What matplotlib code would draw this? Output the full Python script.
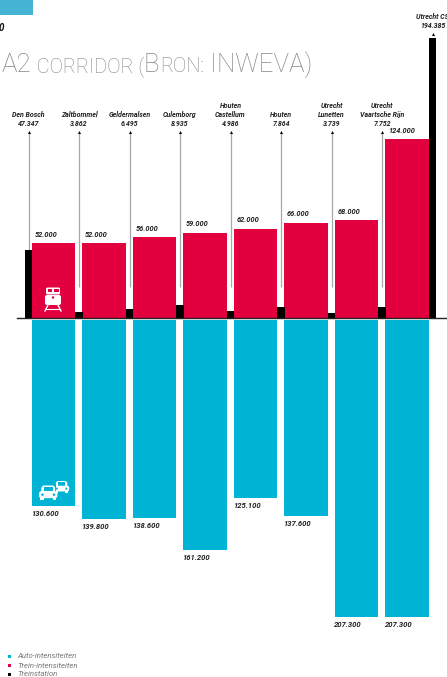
import matplotlib
matplotlib.use('Agg')
import matplotlib.pyplot as plt
from matplotlib.patches import Rectangle, FancyBboxPatch, Circle
from matplotlib.transforms import Affine2D

plt.rcParams['font.family'] = ['Roboto', 'DejaVu Sans']

stations = ['Den Bosch', 'Zaltbommel', 'Geldermalsen', 'Culemborg', 'Houten\nCastellum',
            'Houten', 'Utrecht\nLunetten', 'Utrecht\nVaartsche Rijn', 'Utrecht CS']
station_labels = ['47.347', '3.862', '6.495', '8.935', '4.986', '7.864', '3.739', '7.752', '194.385']
station_vals = [47347, 3862, 6495, 8935, 4986, 7864, 3739, 7752, 194385]

train_vals = [52000, 52000, 56000, 59000, 62000, 66000, 68000, 124000]
train_labels = ['52.000', '52.000', '56.000', '59.000', '62.000', '66.000', '68.000', '124.000']
car_vals = [130600, 139800, 138600, 161200, 125100, 137600, 207300, 207300]
car_labels = ['130.600', '139.800', '138.600', '161.200', '125.100', '137.600', '207.300', '207.300']

legend_names = ['Auto-intensiteiten', 'Trein-intensiteiten', 'Treinstation']

RED = '#e2003f'
CYAN = '#00b4d6'
BLACK = '#000000'
GREY = '#a8a8a8'
TXT = '#222222'

W, H = 447, 677
fig = plt.figure(figsize=(W / 100, H / 100), dpi=100)

# data axes, one bar slot per step on x and traffic counts on y
ax = fig.add_axes([0, 0, 1, 1])
ax.set_xlim(-53.5 / 50.5, (W - 53.5) / 50.5)
ax.set_ylim(-(H - 318) / 1.44 * 1000, 318 / 1.44 * 1000)
ax.axis('off')

# pixel overlay for the header, legend and icons
px = fig.add_axes([0, 0, 1, 1], zorder=5)
px.set_xlim(0, W)
px.set_ylim(H, 0)
px.axis('off')
px.patch.set_alpha(0)

bar_w = 0.86
st_w = 0.145
gap = 1500

for i in range(len(train_vals)):
    ax.bar(i, train_vals[i], width=bar_w, color=RED, linewidth=0, zorder=2)
    # blue bars start just under the axis line but still end at their value
    ax.bar(i, -(car_vals[i] - gap), bottom=-gap, width=bar_w, color=CYAN, linewidth=0, zorder=2)
    left = i - bar_w / 2
    ax.annotate(train_labels[i], (left, train_vals[i]), xytext=(2, 4), textcoords='offset points',
                fontsize=5.3, style='italic', weight='bold', color=TXT, ha='left', va='bottom')
    ax.annotate(car_labels[i], (left, -car_vals[i]), xytext=(-0.5, -3), textcoords='offset points',
                fontsize=5.5, style='italic', weight='bold', color=TXT, ha='left', va='top')

# stations sit in the gaps between the bars
for i in range(len(station_vals)):
    x = i - 0.495
    val = station_vals[i]
    ax.bar(x, val, width=st_w, color=BLACK, linewidth=0, zorder=3)
    if i < len(station_vals) - 1:
        bottom = val if i == 0 else 21500
        ax.plot([x, x], [bottom, 128500], color=GREY, lw=0.9, zorder=1, solid_capstyle='butt')
        top = 129500
    else:
        top = val + 2800
    ax.plot(x, top, marker='^', ms=2.2, color=BLACK, mew=0, zorder=4)
    ax.annotate(stations[i] + '\n' + station_labels[i], (x, top), xytext=(0, 3.5),
                textcoords='offset points', fontsize=5.0, style='italic', weight='bold',
                color=TXT, ha='center', va='bottom', linespacing=1.3)

ax.plot([-36.5 / 50.5, (W - 53.5) / 50.5], [0, 0], color='#222222', lw=1.0, zorder=4)

# header block and title in small caps
px.add_patch(Rectangle((0, 0), 33, 15, color='#45b3d3', lw=0))
px.text(-1, 28, '0', fontsize=7, style='italic', weight='bold', color='#111111', va='center', ha='left')

title_parts = [('A2', 18.6), (' CORRIDOR (', 14.4), ('B', 18.6), ('RON:', 14.4), (' INWEVA)', 18.6)]
renderer = fig.canvas.get_renderer()
cx = 2.0
for part, size in title_parts:
    px.text(cx, 72, part, fontsize=size, color='#858585', weight='light', ha='left', va='baseline')
    # leading spaces are dropped from the extent, so measure with a stand-in
    probe = px.text(0, 0, part.replace(' ', '\u00a0'), fontsize=size, weight='light')
    cx += probe.get_window_extent(renderer).width
    probe.remove()

# legend
for y, col, name in zip([656.5, 665.5, 674.5], [CYAN, RED, BLACK], legend_names):
    px.add_patch(Rectangle((8, y - 1.5), 3.2, 3.2, color=col, lw=0))
    px.text(17, y, name, fontsize=5.6, style='italic', color='#777777', va='center', ha='left')

# train icon
WH = 'white'
px.add_patch(FancyBboxPatch((46, 287.5), 14, 7, boxstyle='round,pad=0,rounding_size=1.5', fc=WH, ec='none'))
px.add_patch(Rectangle((47.5, 289.2), 4.5, 3, fc=RED, lw=0))
px.add_patch(Rectangle((54, 289.2), 4.5, 3, fc=RED, lw=0))
px.add_patch(FancyBboxPatch((45, 295), 16, 10, boxstyle='round,pad=0,rounding_size=2', fc=WH, ec='none'))
px.add_patch(Circle((53, 297.5), 1.2, fc=RED, lw=0))
px.plot([48, 45], [305, 311], color=WH, lw=1.0)
px.plot([58, 61], [305, 311], color=WH, lw=1.0)
px.plot([46, 60], [309, 309], color=WH, lw=0.8)


def car(x, y, scale):
    tr = Affine2D().scale(scale).translate(x, y) + px.transData
    px.add_patch(FancyBboxPatch((2, 0), 12, 7, boxstyle='round,pad=0,rounding_size=2.5', fc=WH, ec='none', transform=tr))
    px.add_patch(Rectangle((4, 1.5), 8, 3.5, fc=CYAN, lw=0, transform=tr))
    px.add_patch(FancyBboxPatch((0, 5), 16, 6, boxstyle='round,pad=0,rounding_size=2', fc=WH, ec='none', transform=tr))
    px.add_patch(Circle((3, 8), 1.1, fc=CYAN, lw=0, transform=tr))
    px.add_patch(Circle((13, 8), 1.1, fc=CYAN, lw=0, transform=tr))
    px.add_patch(Rectangle((1, 11), 3, 2, fc=WH, lw=0, transform=tr))
    px.add_patch(Rectangle((12, 11), 3, 2, fc=WH, lw=0, transform=tr))


car(54, 481, 0.95)
px.add_patch(Rectangle((52.5, 484), 3, 12, fc=CYAN, lw=0))
car(39, 485.5, 1.15)

fig.savefig('out.png', dpi=100)
